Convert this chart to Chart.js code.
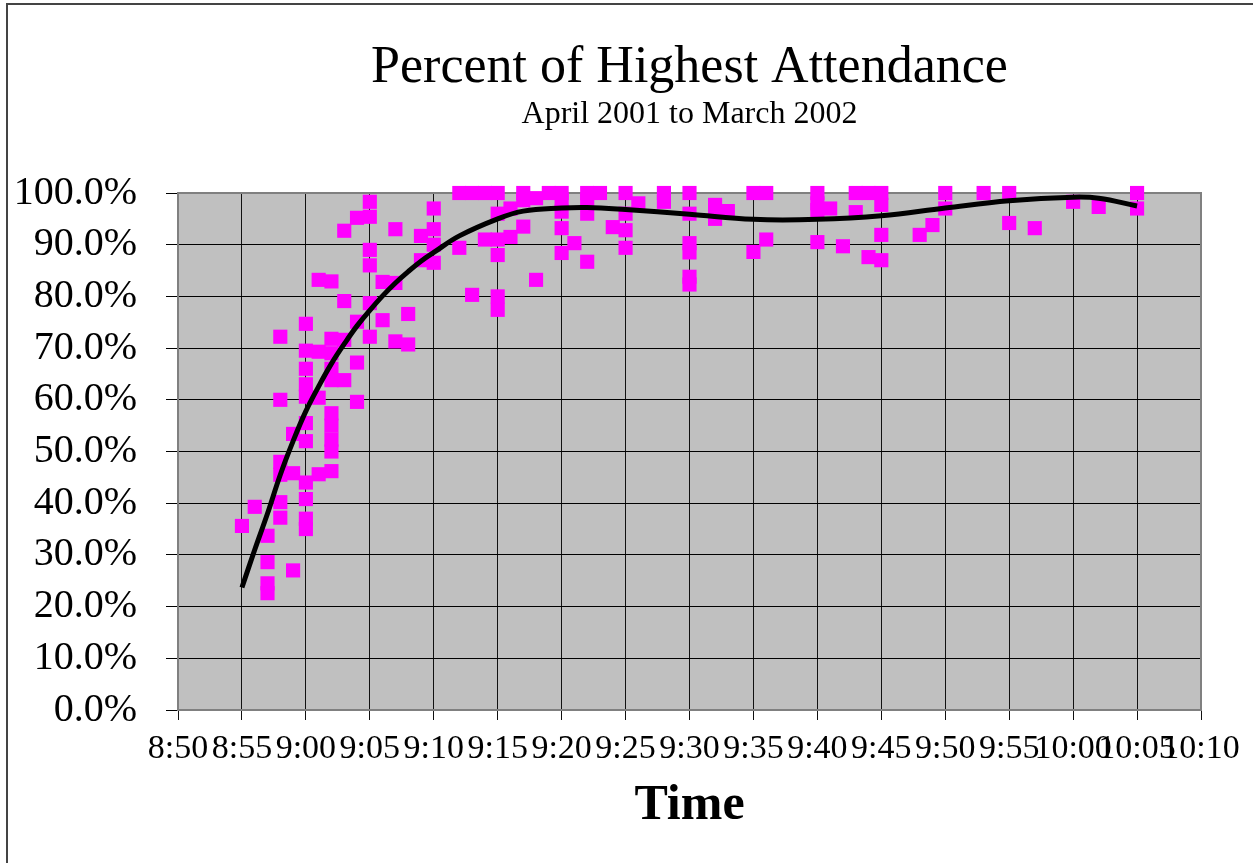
<!DOCTYPE html>
<html>
<head>
<meta charset="utf-8">
<title>Percent of Highest Attendance</title>
<script src="https://cdn.jsdelivr.net/npm/chart.js@4.4.1/dist/chart.umd.min.js"></script>
<style>
    body { margin: 0; background: #fff; overflow: hidden; }
    #frame { position: absolute; left: 6px; top: 3px; width: 1300px; height: 900px;
             border-left: 2px solid #444; border-top: 2px solid #444; }
    #attendanceChart { position: absolute; left: 0; top: 0; }
</style>
</head>
<body>
<div id="frame"></div>
<canvas id="attendanceChart" width="1253" height="863"></canvas>
<script>
// arrival minute and the percentages recorded at that minute
const sampleTimes = ['8:55', '8:56', '8:57', '8:58', '8:59', '9:00', '9:01', '9:02', '9:03', '9:04',
    '9:05', '9:06', '9:07', '9:08', '9:09', '9:10', '9:12', '9:13', '9:14', '9:15',
    '9:16', '9:17', '9:18', '9:19', '9:20', '9:21', '9:22', '9:23', '9:24', '9:25',
    '9:26', '9:28', '9:30', '9:32', '9:33', '9:35', '9:36', '9:40', '9:41', '9:42',
    '9:43', '9:44', '9:45', '9:48', '9:49', '9:50', '9:53', '9:55', '9:57', '10:00',
    '10:02', '10:05'];
const samplePercents = [
    [35.6], [39.3], [33.7, 28.6, 24.5, 22.6], [72.2, 60, 48, 45.5, 40.2, 37.2], [53.4, 45.8, 27],
    [74.7, 69.5, 66, 63, 60.6, 55.5, 52, 44, 40.8, 37, 35], [83.2, 69.3, 60.4, 45.6],
    [82.9, 71.8, 69, 66, 63.8, 57.4, 55, 52.3, 50, 46.2], [92.7, 79.1, 71.6, 63.8],
    [95.2, 75.1, 67.2, 59.6],
    [98.3, 95.4, 89, 86, 78.7, 72.2], [82.8, 75.4], [93, 82.6, 71.3], [76.6, 70.7], [91.7, 87],
    [97, 93, 90, 86.5], [100, 89.4], [100, 80.3], [100, 91], [100, 96, 91, 88, 80, 77.4],
    [97, 91.5], [100, 98.6, 93.5], [99, 83.2], [100], [100, 98.7, 96.4, 93.2, 88.4],
    [90.3], [100, 98.6, 96, 86.7], [100], [93.4], [100, 96, 92.8, 89.4],
    [98], [100, 98.3], [100, 96, 90.3, 88.5, 83.8, 82.3], [97.7, 95], [96.5],
    [100, 88.6], [100, 91], [100, 98, 96.7, 90.5], [97], [89.7],
    [100, 96.3], [100, 87.6], [100, 97.7, 91.9, 87], [91.9], [93.8],
    [100, 97], [100], [100, 94.2], [93.2], [98.3],
    [97.3], [100, 97]
];

// trend curve
const trendTimes = ['8:55', '8:56', '8:57', '8:58', '8:59', '9:00', '9:01', '9:02', '9:03', '9:04',
    '9:05', '9:06', '9:07', '9:08', '9:09', '9:10', '9:12', '9:15', '9:17', '9:20',
    '9:22', '9:25', '9:30', '9:35', '9:40', '9:45', '9:50', '9:55', '10:00', '10:02', '10:05'];
const trendPercents = [23.7, 31, 38, 45.5, 52, 57.8, 62.6, 67, 70.8, 74.3,
    77.3, 80.1, 82.6, 84.8, 86.8, 88.5, 91.7, 95, 96.5, 97.1,
    97.2, 96.8, 95.9, 94.9, 94.9, 95.6, 97.1, 98.5, 99.2, 99, 97.5];

const timeTicks = ['8:50', '8:55', '9:00', '9:05', '9:10', '9:15', '9:20', '9:25', '9:30',
    '9:35', '9:40', '9:45', '9:50', '9:55', '10:00', '10:05', '10:10'];

function toMinutes(t) {
    const [h, m] = t.split(':').map(Number);
    return h * 60 + m;
}

const scatterPoints = [];
sampleTimes.forEach((t, i) => {
    samplePercents[i].forEach(p => scatterPoints.push({ x: toMinutes(t), y: p }));
});
const trendPoints = trendTimes.map((t, i) => ({ x: toMinutes(t), y: trendPercents[i] }));

const serif = 'Liberation Serif, Times New Roman, serif';

// grey plot area and its border
const plotArea = {
    id: 'plotArea',
    beforeDraw(chart) {
        const { ctx, chartArea: a } = chart;
        ctx.save();
        ctx.fillStyle = '#c0c0c0';
        ctx.fillRect(a.left, a.top, a.right - a.left, a.bottom - a.top);
        ctx.restore();
    },
    beforeDatasetsDraw(chart) {
        const { ctx, chartArea: a } = chart;
        ctx.save();
        ctx.strokeStyle = '#808080';
        ctx.lineWidth = 2;
        ctx.strokeRect(a.left, a.top, a.right - a.left, a.bottom - a.top);
        ctx.restore();
    }
};

new Chart(document.getElementById('attendanceChart'), {
    type: 'scatter',
    data: {
        datasets: [{
            type: 'line',
            label: 'Trend',
            data: trendPoints,
            borderColor: '#000',
            borderWidth: 5,
            pointRadius: 0,
            tension: 0.4,
            fill: false,
            clip: false,
            order: 0
        }, {
            label: 'Percent of Highest Attendance',
            data: scatterPoints,
            pointStyle: 'rect',
            pointRadius: 10,
            pointBorderWidth: 0,
            backgroundColor: '#ff00ff',
            borderColor: '#ff00ff',
            clip: false,
            order: 1
        }]
    },
    options: {
        responsive: false,
        animation: false,
        layout: { padding: { left: 0, right: 52, top: 0, bottom: 0 } },
        plugins: {
            legend: { display: false },
            tooltip: { enabled: false },
            title: {
                display: true,
                fullSize: false,
                text: 'Percent of Highest Attendance',
                color: '#000',
                font: { family: serif, size: 52, weight: 'normal', lineHeight: 1.0 },
                padding: { top: 42, bottom: 0 }
            },
            subtitle: {
                display: true,
                fullSize: false,
                text: 'April 2001 to March 2002',
                color: '#000',
                font: { family: serif, size: 32, weight: 'normal', lineHeight: 1.2 },
                padding: { top: 1, bottom: 59.6 }
            }
        },
        scales: {
            x: {
                type: 'linear',
                min: toMinutes('8:50'),
                max: toMinutes('10:10'),
                afterFit: s => { s.height = 153; },
                ticks: {
                    stepSize: 5,
                    autoSkip: false,
                    maxRotation: 0,
                    padding: 9,
                    color: '#000',
                    font: { family: serif, size: 34 },
                    callback: (v, i) => timeTicks[i]
                },
                grid: { color: '#111', lineWidth: 1, tickLength: 10 },
                border: { display: false },
                title: {
                    display: true,
                    text: 'Time',
                    color: '#000',
                    font: { family: serif, size: 50, weight: 'bold' },
                    padding: { top: 0, bottom: 27 }
                }
            },
            y: {
                min: 0,
                max: 100,
                afterFit: s => { s.width = 178; },
                ticks: {
                    stepSize: 10,
                    padding: 29,
                    color: '#000',
                    font: { family: serif, size: 40 },
                    callback: v => v.toFixed(1) + '%'
                },
                grid: { color: '#000', lineWidth: 1, tickLength: 12 },
                border: { display: false }
            }
        }
    },
    plugins: [plotArea]
});
</script>
</body>
</html>
